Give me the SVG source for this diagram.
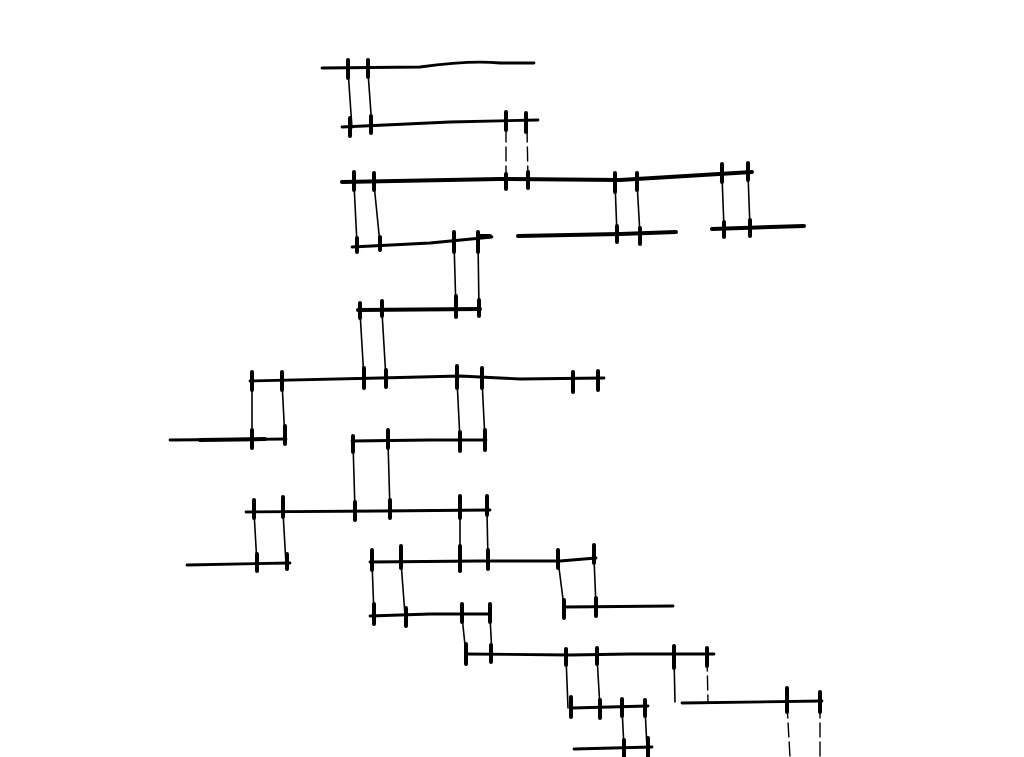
<svg xmlns="http://www.w3.org/2000/svg" width="1024" height="757" viewBox="0 0 1024 757">
<style>
.h{fill:none;stroke:#000;stroke-width:2.8;stroke-linecap:round;stroke-linejoin:round}
.hb{fill:none;stroke:#000;stroke-width:4;stroke-linecap:round}
.t{fill:none;stroke:#000;stroke-width:4;stroke-linecap:round}
.c{fill:none;stroke:#000;stroke-width:1.6;stroke-linecap:round}
.d{fill:none;stroke:#000;stroke-width:1.4;stroke-dasharray:14 5;stroke-linecap:round}
</style>
<rect width="1024" height="757" fill="#fff"/>
<g id="connectors">
<path class="c" d="M348 70 L352 128 M368 72 L372 128"/>
<path class="d" d="M506 128 L506 180 M527 128 L528 180"/>
<path class="c" d="M354 184 L357 244 M374 184 L380 244 M615 182 L617 235 M637 182 L640 235 M722 176 L724 228 M748 174 L750 228"/>
<path class="c" d="M454 242 L456 310 M478 240 L479 310"/>
<path class="c" d="M360 312 L364 379 M382 312 L386 379"/>
<path class="c" d="M252 382 L252 440 M282 382 L285 440 M457 380 L460 440 M482 380 L485 440"/>
<path class="c" d="M353 442 L355 511 M388 442 L390 511"/>
<path class="c" d="M254 512 L257 564 M283 512 L286 564 M460 512 L460 561 M487 512 L488 561"/>
<path class="c" d="M372 562 L374 615 M401 562 L405 615 M558 560 L564 607 M594 558 L596 607"/>
<path class="c" d="M462 616 L466 655 M490 616 L492 655"/>
<path class="c" d="M566 657 L568 708 M597 657 L600 708 M674 657 L675 702"/>
<path class="d" d="M707 657 L708 702"/>
<path class="c" d="M622 708 L624 748 M645 708 L647 748"/>
<path class="d" d="M787 704 L790 757 M820 704 L820 757"/>
</g>
<g id="row1"><path class="h" d="M322 68 L420 67 Q470 60 500 63 L534 63"/><path class="t" d="M348 60 V78 M368 60 V77"/></g>
<g id="row2"><path class="h" d="M342 127 L450 122 L538 120"/><path class="t" d="M350 118 V136 M371 116 V133 M506 112 V130 M526 113 V132"/></g>
<g id="row3"><path class="hb" d="M342 182 L500 179 L620 180 L752 172"/><path class="t" d="M354 172 V190 M374 173 V190 M506 174 V189 M528 172 V188 M615 173 V192 M637 173 V190 M722 164 V182 M748 163 V180"/></g>
<g id="row4a"><path class="h" d="M352 247 L430 243 L492 237"/><path class="t" d="M357 238 V252 M380 237 V250 M454 232 V252 M478 232 V252 M480 236 H490"/></g>
<g id="row4b"><path class="hb" d="M518 236 L620 234 L676 232"/><path class="t" d="M617 226 V242 M640 228 V244"/></g>
<g id="row4c"><path class="hb" d="M712 229 L804 226"/><path class="t" d="M724 222 V237 M750 220 V236"/></g>
<g id="row5"><path class="hb" d="M358 310 L480 309"/><path class="t" d="M360 303 V318 M382 301 V316 M456 296 V317 M479 300 V316"/></g>
<g id="row6"><path class="h" d="M250 381 L380 378 L460 376 L520 379 L604 378"/><path class="t" d="M252 372 V390 M282 372 V390 M364 368 V388 M386 370 V387 M457 366 V388 M482 368 V388 M573 372 V392 M598 371 V390"/></g>
<g id="row7a"><path class="h" d="M170 440 L286 439"/><path class="hb" d="M200 440 L265 439"/><path class="t" d="M252 430 V448 M285 426 V444"/></g>
<g id="row7b"><path class="h" d="M352 441 L430 440 L486 440"/><path class="t" d="M353 436 V452 M388 430 V448 M460 432 V451 M485 430 V450"/></g>
<g id="row8"><path class="h" d="M246 512 L380 511 L490 510"/><path class="t" d="M254 500 V518 M283 497 V517 M355 502 V520 M390 500 V518 M460 496 V518 M487 496 V515"/></g>
<g id="row9a"><path class="h" d="M187 565 L290 563"/><path class="t" d="M257 554 V571 M287 554 V569"/></g>
<g id="row9b"><path class="h" d="M370 562 L480 561 L560 561 L596 558"/><path class="t" d="M372 550 V570 M401 546 V568 M460 546 V571 M488 550 V569 M558 550 V568 M594 545 V563"/></g>
<g id="row10a"><path class="h" d="M370 616 L430 614 L490 614"/><path class="t" d="M374 604 V624 M406 608 V626 M462 604 V622 M490 604 V622"/></g>
<g id="row10b"><path class="h" d="M564 607 L673 606"/><path class="t" d="M564 600 V618 M596 598 V616"/></g>
<g id="row11"><path class="h" d="M466 654 L570 655 L630 654 L714 654"/><path class="t" d="M466 644 V664 M491 645 V662 M566 649 V665 M597 648 V664 M674 646 V668 M707 648 V666"/></g>
<g id="row12a"><path class="h" d="M572 708 L648 706"/><path class="t" d="M571 697 V717 M600 700 V718 M622 699 V716 M645 700 V716"/></g>
<g id="row12b"><path class="h" d="M682 703 L822 701"/><path class="t" d="M787 688 V712 M820 692 V712"/></g>
<g id="row13"><path class="h" d="M574 749 L652 747"/><path class="t" d="M624 740 V757 M648 738 V756"/></g>
</svg>
